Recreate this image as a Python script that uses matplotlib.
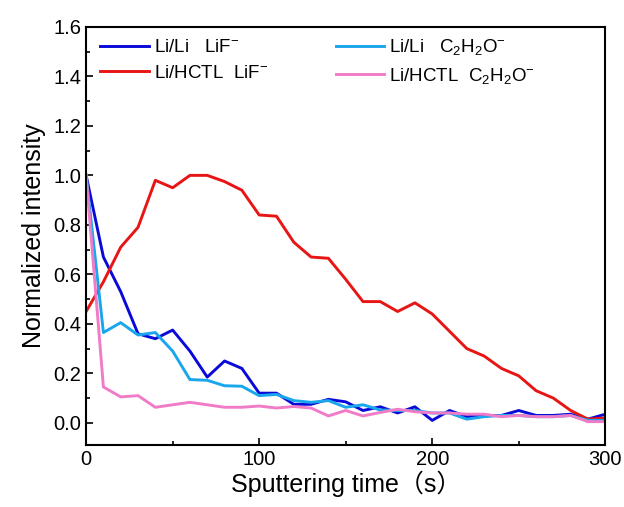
import numpy as np
import matplotlib
matplotlib.use('Agg')
import matplotlib.pyplot as plt
from matplotlib.ticker import MultipleLocator, FormatStrFormatter

plt.rcParams['font.family'] = ['Liberation Sans', 'Noto Sans CJK SC']
plt.rcParams['mathtext.fontset'] = 'custom'
plt.rcParams['mathtext.rm'] = 'Liberation Sans'
plt.rcParams['mathtext.it'] = 'Liberation Sans'

# Sputtering time (s)
time_s = np.arange(0, 301, 10)

lili_lif = [1.0, 0.67, 0.53, 0.36, 0.34, 0.375, 0.29, 0.185, 0.25, 0.22,
            0.12, 0.12, 0.075, 0.075, 0.095, 0.085, 0.05, 0.065, 0.04, 0.065,
            0.01, 0.05, 0.025, 0.03, 0.03, 0.05, 0.03, 0.03, 0.035, 0.015, 0.035]
lili_c2h2o = [1.0, 0.365, 0.405, 0.355, 0.365, 0.29, 0.175, 0.172, 0.15, 0.148,
              0.11, 0.115, 0.09, 0.083, 0.09, 0.063, 0.073, 0.052, 0.05, 0.05,
              0.04, 0.04, 0.015, 0.025, 0.03, 0.03, 0.025, 0.025, 0.03, 0.01, 0.01]
hctl_lif = [0.45, 0.57, 0.71, 0.79, 0.98, 0.95, 1.0, 1.0, 0.975, 0.94,
            0.84, 0.835, 0.73, 0.67, 0.665, 0.58, 0.49, 0.49, 0.45, 0.485,
            0.44, 0.37, 0.30, 0.27, 0.22, 0.19, 0.13, 0.10, 0.05, 0.015, 0.02]
hctl_c2h2o = [1.0, 0.145, 0.105, 0.11, 0.063, 0.073, 0.083, 0.073, 0.063, 0.063,
              0.068, 0.06, 0.066, 0.06, 0.028, 0.05, 0.028, 0.042, 0.055, 0.045,
              0.04, 0.04, 0.035, 0.035, 0.025, 0.03, 0.025, 0.025, 0.03, 0.005, 0.005]

fig = plt.figure(figsize=(6.24, 5.07), dpi=100)
ax = fig.add_axes([0.138, 0.122, 0.832, 0.825])

lw = 2.1
ax.plot(time_s, lili_lif, color='#0a0ad8', lw=lw, label='Li/Li   LiF$^{-}$')
ax.plot(time_s, hctl_lif, color='#e81515', lw=lw, label='Li/HCTL  LiF$^{-}$')
ax.plot(time_s, lili_c2h2o, color='#1aa6ec', lw=lw, label='Li/Li   C$_2$H$_2$O$^{-}$')
ax.plot(time_s, hctl_c2h2o, color='#f07cc8', lw=lw, label='Li/HCTL  C$_2$H$_2$O$^{-}$')

ax.set_xlim(0, 300)
ax.set_ylim(-0.09, 1.6)
ax.xaxis.set_major_locator(MultipleLocator(100))
ax.xaxis.set_minor_locator(MultipleLocator(50))
ax.yaxis.set_major_locator(MultipleLocator(0.2))
ax.yaxis.set_minor_locator(MultipleLocator(0.1))
ax.yaxis.set_major_formatter(FormatStrFormatter('%.1f'))
ax.tick_params(which='both', direction='in', labelsize=14.5)
ax.tick_params(which='major', length=5, width=1.2)
ax.tick_params(which='minor', length=3, width=1.2)
for s in ax.spines.values():
    s.set_linewidth(1.5)

ax.set_xlabel('Sputtering time（s）', fontsize=18, labelpad=1)
ax.set_ylabel('Normalized intensity', fontsize=18, labelpad=5)

ax.legend(ncol=2, frameon=False, fontsize=13.5, loc='upper left',
          bbox_to_anchor=(-0.005, 1.015), handlelength=2.6, handletextpad=0.25,
          columnspacing=3.6, labelspacing=0.45)

fig.savefig('out.png', dpi=100)
